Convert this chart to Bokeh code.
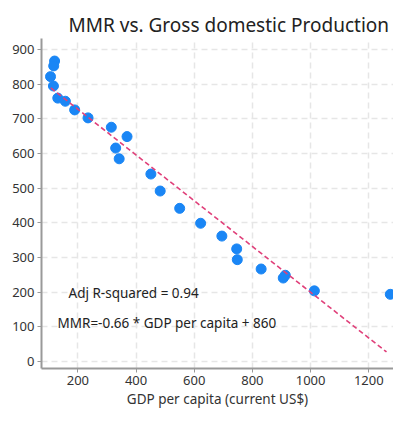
from bokeh.plotting import figure
from bokeh.models import Range1d, ColumnDataSource, Label
from bokeh.embed import file_html
from bokeh.resources import INLINE

gdp = [120, 117, 106, 116, 131, 157, 189, 235, 315, 369, 330, 342, 451, 483,
       550, 622, 695, 746, 748, 830, 906, 913, 1013, 1274]
mmr = [867, 853, 822, 795, 760, 751, 726, 703, 676, 649, 616, 585, 541, 492,
       442, 399, 362, 325, 294, 267, 241, 249, 204, 194]
slope = -0.66
intercept = 860
fit_x = [107, 1261]
fit_y = [slope * v + intercept for v in fit_x]
x_ticks = [200, 400, 600, 800, 1000, 1200]
y_ticks = [0, 100, 200, 300, 400, 500, 600, 700, 800, 900]
x_label = "GDP per capita (current US$)"

FONT = "Noto Sans"

p = figure(width=393, height=410, output_backend="svg", toolbar_location=None,
           x_range=Range1d(75, 1285), y_range=Range1d(-20, 932),
           min_border_left=41, min_border_right=0, min_border_top=38, min_border_bottom=40)
p.title.text = "MMR vs. Gross domestic Production"
p.title.text_font = FONT
p.title.text_font_size = "19px"
p.title.text_font_style = "normal"
p.title.text_color = "#222222"
p.title.align = "left"
p.title.standoff = 1
p.title.offset = 27

src = ColumnDataSource(dict(x=gdp, y=mmr))
p.scatter("x", "y", source=src, size=10, color="#1a86f5", line_color="#1a86f5")
p.line(fit_x, fit_y, line_color="#e0407a", line_width=1.6, line_dash="5 3")

p.add_layout(Label(x=168, y=198, text="Adj R-squared = 0.94", text_font=FONT,
                   text_font_size="13.5px", text_color="#222222", text_baseline="middle"))
p.add_layout(Label(x=130, y=112, text="MMR=-0.66 * GDP per capita + 860", text_font=FONT,
                   text_font_size="13.5px", text_color="#222222", text_baseline="middle"))

p.xaxis.ticker = x_ticks
p.yaxis.ticker = y_ticks
p.xaxis.axis_label = x_label
for ax in (p.xaxis, p.yaxis):
    ax.axis_line_color = "#999999"
    ax.axis_line_width = 2
    ax.major_tick_line_color = "#999999"
    ax.major_tick_in = 0
    ax.major_tick_out = 4
    ax.minor_tick_line_color = None
    ax.major_label_text_font = FONT
    ax.major_label_text_font_size = "13px"
    ax.major_label_text_color = "#333333"
    ax.axis_label_text_font = FONT
    ax.axis_label_text_font_size = "13.5px"
    ax.axis_label_text_font_style = "normal"
    ax.axis_label_text_color = "#333333"
    ax.axis_label_standoff = 2
p.yaxis.major_label_standoff = 3
p.xaxis.major_label_standoff = 3

p.grid.grid_line_color = "#e6e6e6"
p.grid.grid_line_dash = "6 4"
p.grid.grid_line_width = 1.5
p.outline_line_color = None

open("out.html", "w").write(file_html(p, INLINE))
